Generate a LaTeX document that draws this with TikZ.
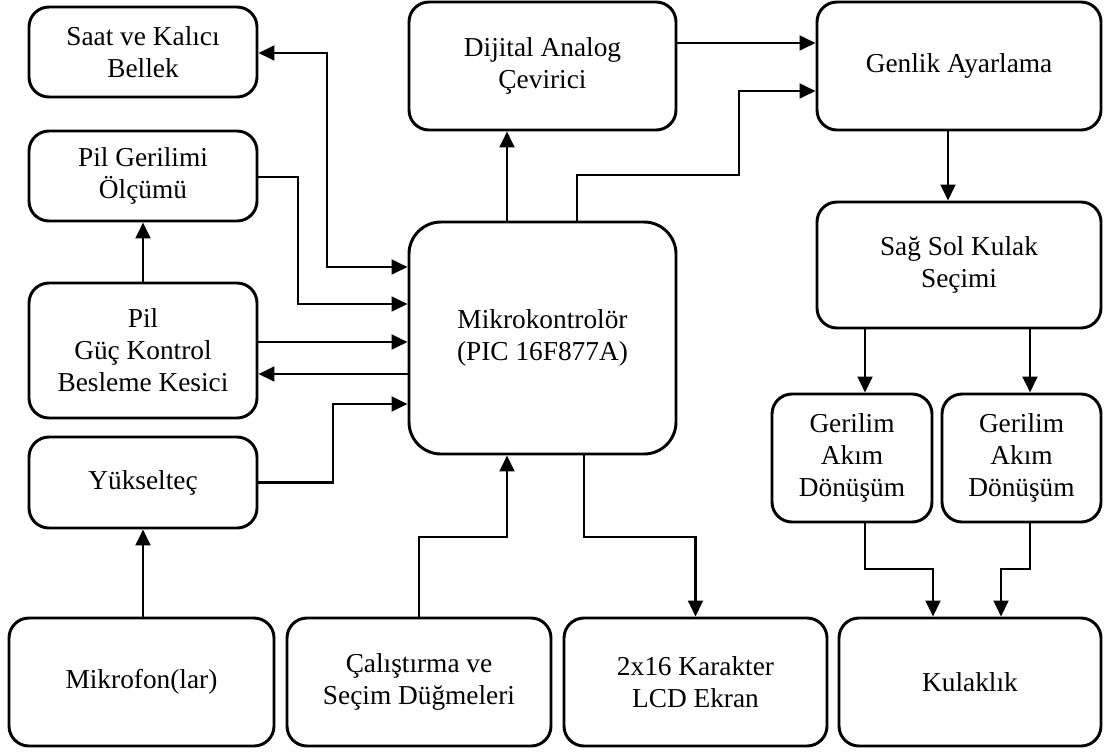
\documentclass[tikz,border=0pt]{standalone}
\usepackage{fontspec}
\setmainfont{Liberation Serif}
\usepackage{tikz}
\usetikzlibrary{positioning,shapes,arrows.meta,calc}
\tikzstyle{blk}=[%
      rectangle, rounded corners=15pt, draw=black, line width=2.2pt, fill=white,
      inner sep=0pt, align=center, font=\fontsize{20.5}{24}\selectfont
]
\tikzstyle{mcu}=[%
      blk, rounded corners=24pt
]
\tikzstyle{wire}=[%
      line width=2.2pt, draw=black
]

\begin{document}
\begin{tikzpicture}[x=0.75pt, y=-0.75pt,
    >={Triangle[length=12pt,width=11pt]}
  ]
    \useasboundingbox (0,0) rectangle (1110,751);

    \node[blk, minimum width=171pt, minimum height=67.5pt]   (saat)   at (143,52)    {Saat ve Kalıcı\\Bellek};
    \node[blk, minimum width=171pt, minimum height=67.5pt]   (pilolc) at (143,176)   {Pil Gerilimi\\Ölçümü};
    \node[blk, minimum width=171pt, minimum height=101.25pt] (pilguc) at (143,350.5) {Pil\\Güç Kontrol\\Besleme Kesici};
    \node[blk, minimum width=171pt, minimum height=68.25pt]  (yuks)   at (143,482.5) {Yükselteç};
    \node[blk, minimum width=198.75pt, minimum height=96pt]  (mikrofon) at (141.5,682) {Mikrofon(lar)};
    \node[blk, minimum width=198pt, minimum height=96pt]     (calis)  at (419,682)   {Çalıştırma ve\\Seçim Düğmeleri};
    \node[blk, minimum width=197.25pt, minimum height=96pt]  (lcd)    at (695.5,682) {2x16 Karakter\\LCD Ekran};
    \node[blk, minimum width=196.5pt, minimum height=96pt]   (kulak)  at (970,682)   {Kulaklık};
    \node[mcu, minimum width=200.25pt, minimum height=174pt] (mikro)  at (542.5,338) {Mikrokontrolör\\(PIC 16F877A)};
    \node[blk, minimum width=200.25pt, minimum height=96pt]  (dac)    at (542.5,66)  {Dijital Analog\\Çevirici};
    \node[blk, minimum width=213pt, minimum height=96pt]     (genlik) at (959,66)    {Genlik Ayarlama};
    \node[blk, minimum width=213pt, minimum height=94.5pt]   (sagsol) at (959,265)   {Sağ Sol Kulak\\Seçimi};
    \node[blk, minimum width=120pt, minimum height=96pt]     (ger1)   at (852,458)   {Gerilim\\Akım\\Dönüşüm};
    \node[blk, minimum width=119.25pt, minimum height=96pt]  (ger2)   at (1021.5,458) {Gerilim\\Akım\\Dönüşüm};

    % left side
    \draw[wire, <->] (saat.east |- 0,53) -| (327,267) -- (mikro.west |- 0,267);
    \draw[wire, ->] (pilolc.east |- 0,177) -| (298,304) -- (mikro.west |- 0,304);
    \draw[wire, ->] (pilguc.east |- 0,342) -- (mikro.west |- 0,342);
    \draw[wire, ->] (mikro.west |- 0,374) -- (pilguc.east |- 0,374);
    \draw[wire, ->] (yuks.east) -| (333,404) -- (mikro.west |- 0,404);
    \draw[wire, ->] (pilguc.north) -- (pilolc.south);
    \draw[wire, ->] (yuks.south |- mikrofon.north) -- (yuks.south);

    % bottom
    \draw[wire, ->] (calis.north) |- (507,537) -- (mikro.south -| 507,0);
    \draw[wire, ->] (mikro.south -| 584,0) |- (lcd.north |- 0,537) -- (lcd.north);

    % top
    \draw[wire, ->] (mikro.north -| 507,0) -- (dac.south -| 507,0);
    \draw[wire, ->] (mikro.north -| 577,0) |- (739,175) |- (genlik.west |- 0,91);
    \draw[wire, ->] (dac.east |- 0,43) -- (genlik.west |- 0,43);

    % right side
    \draw[wire, ->] (genlik.south -| 948,0) -- (sagsol.north -| 948,0);
    \draw[wire, ->] (sagsol.south -| 865,0) -- (ger1.north -| 865,0);
    \draw[wire, ->] (sagsol.south -| 1030,0) -- (ger2.north -| 1030,0);
    \draw[wire, ->] (ger1.south -| 865,0) |- (933,569) -- (kulak.north -| 933,0);
    \draw[wire, ->] (ger2.south -| 1030,0) |- (1001,569) -- (kulak.north -| 1001,0);
\end{tikzpicture}
\end{document}
